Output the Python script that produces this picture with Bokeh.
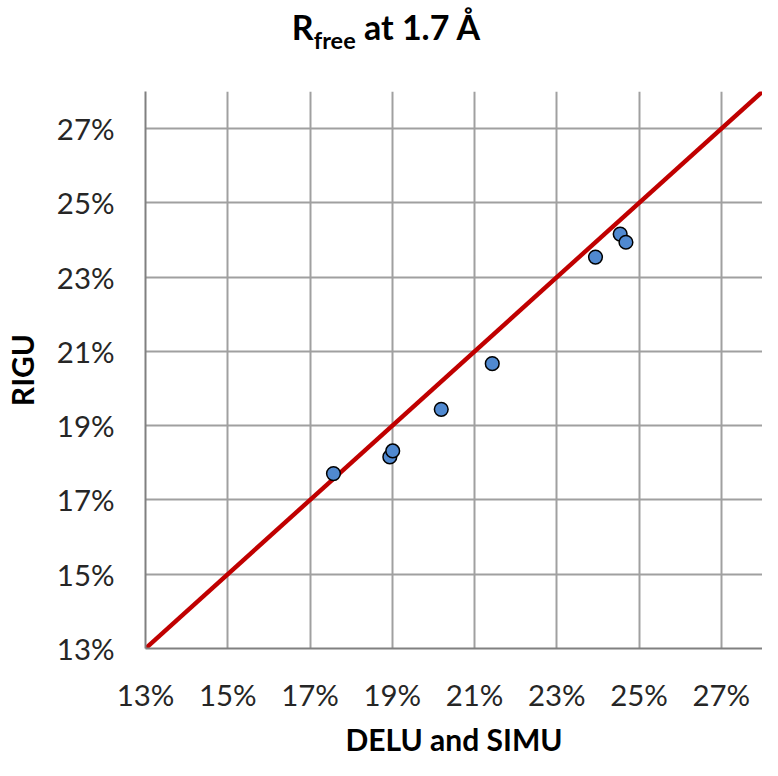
from bokeh.plotting import figure
from bokeh.models import FixedTicker, PrintfTickFormatter, Range1d, Div
from bokeh.layouts import column
from bokeh.embed import file_html
from bokeh.resources import INLINE

# Data (percent)
delu_simu = [17.57, 18.94, 19.01, 20.19, 21.43, 23.94, 24.54, 24.68]
rigu = [17.71, 18.16, 18.32, 19.44, 20.67, 23.54, 24.16, 23.94]
ref_line = [13, 28]
tick_values = [13, 15, 17, 19, 21, 23, 25, 27]
title_main = "R"
title_sub = "free"
title_rest = " at 1.7 Å"
x_label = "DELU and SIMU"
y_label = "RIGU"

FONT = "Lato"

p = figure(width=762, height=700, output_backend="svg", toolbar_location=None,
           x_range=Range1d(13, 28), y_range=Range1d(13, 28),
           min_border_left=144, min_border_right=0, min_border_top=31, min_border_bottom=112)
p.outline_line_color = None
p.background_fill_color = "white"
p.border_fill_color = "white"

# identity line
p.line(ref_line, ref_line, line_color="#C00000", line_width=4.4)
# points
p.scatter(delu_simu, rigu, size=13.7, fill_color="#5089D0", line_color="black", line_width=1.5)

for ax in (p.xaxis[0], p.yaxis[0]):
    ax.ticker = FixedTicker(ticks=tick_values)
    ax.formatter = PrintfTickFormatter(format="%d%%")
    ax.major_tick_line_color = None
    ax.minor_tick_line_color = None
    ax.major_tick_out = 0
    ax.major_tick_in = 0
    ax.axis_line_color = "#808080"
    ax.axis_line_width = 2
    ax.major_label_text_font = FONT
    ax.major_label_text_font_size = "29.4px"
    ax.major_label_text_color = "#262626"
    ax.axis_label_text_font = FONT
    ax.axis_label_text_font_style = "bold"
    ax.axis_label_text_font_size = "30px"
    ax.axis_label_text_color = "black"

p.xaxis.axis_label = x_label
p.yaxis.axis_label = y_label
p.xaxis.major_label_standoff = 28
p.yaxis.major_label_standoff = 31
p.xaxis.axis_label_standoff = 6
p.yaxis.axis_label_standoff = 14

for g in (p.xgrid[0], p.ygrid[0]):
    g.ticker = FixedTicker(ticks=tick_values)
    g.grid_line_color = "#A0A0A0"
    g.grid_line_width = 2

title_html = (
    '<div style="width:762px;height:60px;box-sizing:border-box;padding-left:10px;padding-top:7px;text-align:center;'
    'font-family:Lato;font-weight:bold;font-size:34px;line-height:40px;color:black;white-space:nowrap;">'
    f'{title_main}<span style="font-size:23.5px;vertical-align:-9px;">{title_sub}</span>{title_rest}'
    '</div>'
)
title = Div(text=title_html, width=762, height=60, margin=(0, 0, 0, 0))

layout = column(title, p, spacing=0)

open("out.html", "w").write(file_html(layout, INLINE))
